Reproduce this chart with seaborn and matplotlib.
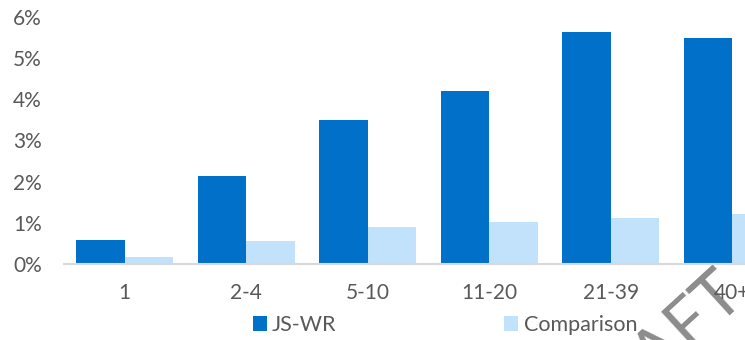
import numpy as np
import pandas as pd
import seaborn as sns
import matplotlib
matplotlib.use("Agg")
import matplotlib.pyplot as plt
from matplotlib.ticker import FuncFormatter
from matplotlib.patches import Patch

# data (percent)
groups = ['1', '2-4', '5-10', '11-20', '21-39', '40+']
js_wr = [0.58, 2.13, 3.49, 4.20, 5.63, 5.50]
comparison = [0.18, 0.57, 0.90, 1.02, 1.11, 1.21]
series_names = ['JS-WR', 'Comparison']
colors = ['#0070C8', '#C2E1FB']

df = pd.DataFrame({
    'group': groups * 2,
    'value': js_wr + comparison,
    'series': [series_names[0]] * len(groups) + [series_names[1]] * len(groups),
})

sns.set_style('white')
plt.rcParams['font.family'] = ['Lato', 'DejaVu Sans']
text_col = '#595959'

fig = plt.figure(figsize=(7.45, 3.4), dpi=100)
ax = fig.add_axes([64 / 745, 1 - 264 / 340, 1 - 64 / 745, (264 - 17) / 340])
ax.patch.set_alpha(0)

sns.barplot(data=df, x='group', y='value', hue='series', palette=colors,
            width=0.8, saturation=1, linewidth=0, ax=ax, legend=False)

ax.set_ylim(0, 6)
ax.set_yticks(range(0, 7))
ax.yaxis.set_major_formatter(FuncFormatter(lambda v, p: f'{v:.0f}%'))
# chart is cut off at the right edge, last group only half visible
ax.set_xlim(-0.5, -0.5 + (745 - 64) / 121.5)
ax.set_xlabel('')
ax.set_ylabel('')

for s in ['top', 'right', 'left']:
    ax.spines[s].set_visible(False)
ax.spines['bottom'].set_color('#D9D9D9')
ax.spines['bottom'].set_linewidth(1.5)
ax.tick_params(axis='y', length=0, pad=16, labelsize=15, labelcolor=text_col)
ax.tick_params(axis='x', length=0, pad=14, labelsize=15, labelcolor=text_col)

handles = [Patch(facecolor=c, edgecolor='none') for c in colors]
fig.legend(handles, series_names, loc='center', bbox_to_anchor=(445 / 745, 1 - 325 / 340),
           ncol=2, frameon=False, fontsize=15.5, labelcolor=text_col,
           handlelength=0.65, handleheight=0.65, handletextpad=0.25, columnspacing=7.8,
           borderpad=0)

# watermark, mostly off canvas, behind the chart text
fig.text(588 / 745, 1 - 440 / 340, 'DRAFT', rotation=42.5, rotation_mode='anchor',
         fontsize=48, color='#8C8C8C', ha='left', va='baseline', zorder=-1)

fig.savefig('out.png', dpi=100)
